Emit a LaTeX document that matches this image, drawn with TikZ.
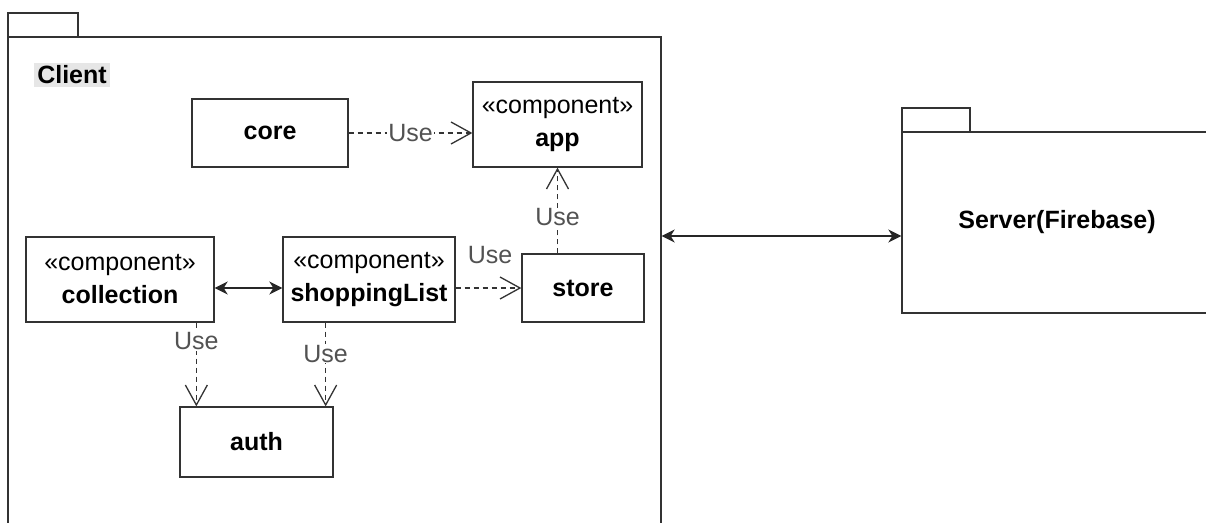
\documentclass[tikz,border=0pt]{standalone}
\usepackage{fontspec}
\setmainfont{Liberation Sans}
\usetikzlibrary{arrows.meta}
\definecolor{edge}{HTML}{333333}
\definecolor{lblbg}{HTML}{E6E6E6}
\tikzset{
  box/.style={draw=edge, line width=1.3pt, fill=white, inner sep=0pt, align=center,
    font=\fontsize{25}{33}\selectfont},
  pkg/.style={draw=edge, line width=1.3pt, inner sep=0pt},
  usedep/.style={draw=edge, line width=1.3pt, dash pattern=on 5pt off 4pt,
    -{Straight Barb[length=20pt,width=22pt,line width=1.3pt]}},
  assoc/.style={draw=black!85, line width=2pt,
    {Stealth[length=13pt,width=13pt,inset=4pt]}-{Stealth[length=13pt,width=13pt,inset=4pt]}},
  uselbl/.style={fill=white, inner sep=1pt, font=\fontsize{25}{30}\selectfont, text=edge!85},
}
\begin{document}
\begin{tikzpicture}[x=1pt,y=-1pt]
\useasboundingbox (0,0) rectangle (1206,522);
\clip (0,0) rectangle (1206,522);
\fill[white] (0,0) rectangle (1206,522);
% Client package
\node[pkg, minimum width=653pt, minimum height=523pt] (client) at (334.5,298.5) {};
\node[pkg, minimum width=70pt, minimum height=24pt] (clienttab) at (43,25) {};
\node[fill=lblbg, inner sep=3pt, font=\fontsize{25}{30}\selectfont\bfseries] (clientlbl) at (72,75) {Client};
% Server package
\node[pkg, minimum width=348pt, minimum height=181pt] (server) at (1076,222.5) {};
\node[pkg, minimum width=68pt, minimum height=24pt] (servertab) at (936,120) {};
\node[font=\fontsize{25}{30}\selectfont\bfseries] (serverlbl) at (1057,222) {Server(Firebase)};
% components
\node[box, minimum width=156pt, minimum height=68pt] (core) at (270,133) {\textbf{core}};
\node[box, minimum width=169pt, minimum height=85pt] (app) at (557.5,124.5) {«component»\\\textbf{app}};
\node[box, minimum width=188pt, minimum height=85pt] (collection) at (120,279.5) {«component»\\\textbf{collection}};
\node[box, minimum width=172pt, minimum height=85pt] (shopping) at (369,279.5) {«component»\\\textbf{shoppingList}};
\node[box, minimum width=122pt, minimum height=68pt] (store) at (583,288) {\textbf{store}};
\node[box, minimum width=153pt, minimum height=70pt] (auth) at (256.5,442) {\textbf{auth}};
% helper coordinates
\coordinate (a1) at ([xshift=17pt]auth.north west);
\coordinate (a2) at ([xshift=-8pt]auth.north east);
\coordinate (ly) at (780,236);
% connectors
\draw[usedep] (core.east) -- node[uselbl] {Use} (app.west |- core.east);
\draw[usedep] (store.north -| app.south) -- node[uselbl, pos=0.42] {Use} (app.south);
\draw[usedep] (shopping.east |- store.west) -- (store.west);
\node[uselbl, fill=none] (uselbl3) at (490,255) {Use};
\draw[assoc] ([yshift=-8.5pt]collection.east) -- ([yshift=-8.5pt]shopping.west);
\draw[usedep] (a1 |- collection.south) -- node[uselbl, pos=0.22] {Use} (a1);
\draw[usedep] (a2 |- shopping.south) -- node[uselbl, pos=0.37] {Use} (a2);
\draw[assoc] (client.east |- ly) -- (server.west |- ly);
\end{tikzpicture}
\end{document}
